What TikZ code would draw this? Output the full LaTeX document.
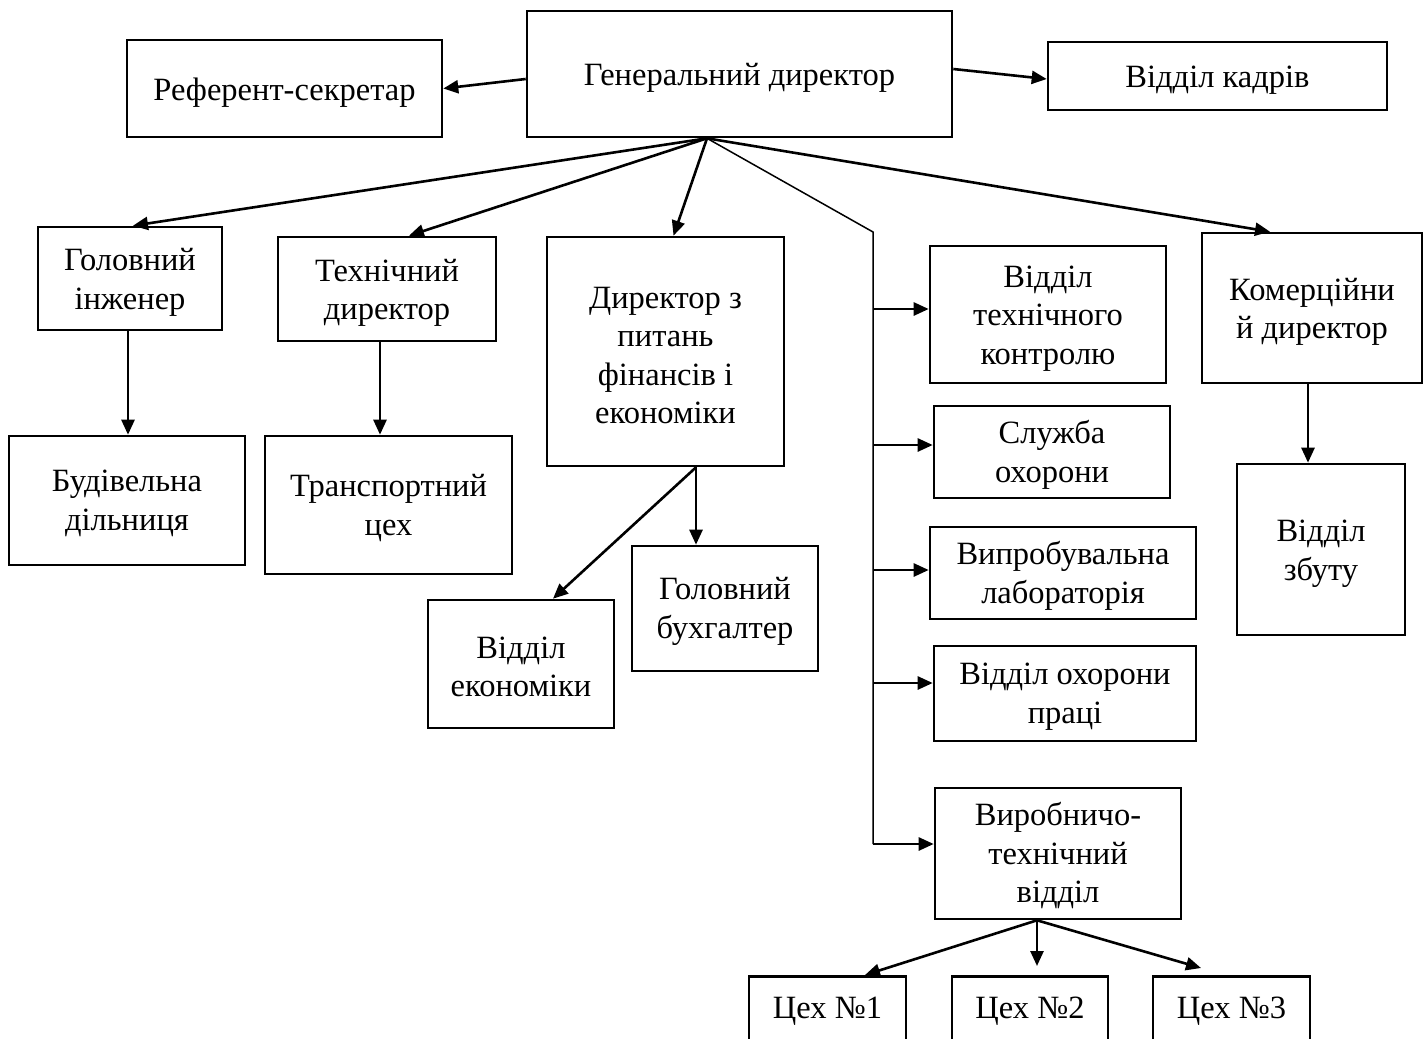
\documentclass[tikz,border=0pt]{standalone}
\usepackage{fontspec}
\setmainfont{Liberation Serif}
\usetikzlibrary{arrows.meta}
\begin{document}
\begin{tikzpicture}[x=1pt,y=-1pt,
  box/.style={draw, line width=2.6pt, inner sep=0pt},
  txt/.style={inner sep=0pt, align=center, font=\fontsize{32.5}{38.5}\selectfont},
  arr/.style={line width=2.6pt, -{Triangle[length=15pt,width=13pt]}},
  thinline/.style={line width=1.5pt}]
\useasboundingbox (0,0) rectangle (1425,1039);

% boxes
\node[box,minimum width=425pt,minimum height=126pt] (gd) at (739.5,74) {};
\node[box,minimum width=315pt,minimum height=97pt] (ref) at (284.5,88.5) {};
\node[box,minimum width=339pt,minimum height=68pt] (kadr) at (1217.5,76) {};
\node[box,minimum width=184pt,minimum height=103pt] (gi) at (130,278.5) {};
\node[box,minimum width=218pt,minimum height=104pt] (td) at (387,289) {};
\node[box,minimum width=237pt,minimum height=229pt] (df) at (665.5,351.5) {};
\node[box,minimum width=236pt,minimum height=137pt] (vtk) at (1048,314.5) {};
\node[box,minimum width=220pt,minimum height=150pt] (kom) at (1312,308) {};
\node[box,minimum width=236pt,minimum height=129pt] (bud) at (127,500.5) {};
\node[box,minimum width=247pt,minimum height=138pt] (trans) at (388.5,505) {};
\node[box,minimum width=186pt,minimum height=125pt] (buh) at (725,608.5) {};
\node[box,minimum width=186pt,minimum height=128pt] (ekon) at (521,664) {};
\node[box,minimum width=236pt,minimum height=92pt] (sluzh) at (1052,452) {};
\node[box,minimum width=168pt,minimum height=171pt] (zbut) at (1321,549.5) {};
\node[box,minimum width=266pt,minimum height=92pt] (vyp) at (1063,573) {};
\node[box,minimum width=262pt,minimum height=95pt] (ohor) at (1065,693.5) {};
\node[box,minimum width=246pt,minimum height=131pt] (vyr) at (1058,853.5) {};
\node[box,minimum width=157pt,minimum height=90pt,anchor=north] (c1) at (827.5,975) {};
\node[box,minimum width=156pt,minimum height=90pt,anchor=north] (c2) at (1030,975) {};
\node[box,minimum width=157pt,minimum height=90pt,anchor=north] (c3) at (1231.5,975) {};

% texts
\node[txt] (gdT) at ([yshift=-4pt]gd.center) {Генеральний директор};
\node[txt] (refT) at ([yshift=-4pt]ref.center) {Референт-секретар};
\node[txt] (kadrT) at ([yshift=-4pt]kadr.center) {Відділ кадрів};
\node[txt] (giT) at ([yshift=-4pt]gi.center) {Головний\\інженер};
\node[txt] (tdT) at ([yshift=-4pt]td.center) {Технічний\\директор};
\node[txt] (dfT) at ([yshift=-4pt]df.center) {Директор з\\питань\\фінансів і\\економіки};
\node[txt] (vtkT) at ([yshift=-4pt]vtk.center) {Відділ\\технічного\\контролю};
\node[txt] (komT) at ([yshift=-4pt]kom.center) {Комерційни\\й директор};
\node[txt] (budT) at ([yshift=-3pt]bud.center) {Будівельна\\дільниця};
\node[txt] (transT) at ([yshift=-3pt]trans.center) {Транспортний\\цех};
\node[txt] (buhT) at ([yshift=-3pt]buh.center) {Головний\\бухгалтер};
\node[txt] (ekonT) at ([yshift=-3pt]ekon.center) {Відділ\\економіки};
\node[txt] (sluzhT) at ([yshift=-3pt]sluzh.center) {Служба\\охорони};
\node[txt] (zbutT) at ([yshift=-4pt]zbut.center) {Відділ\\збуту};
\node[txt] (vypT) at ([yshift=-3pt]vyp.center) {Випробувальна\\лабораторія};
\node[txt] (ohorT) at ([yshift=-3pt]ohor.center) {Відділ охорони\\праці};
\node[txt] (vyrT) at ([yshift=-2pt]vyr.center) {Виробничо-\\технічний\\відділ};
\node[txt,anchor=base] (c1T) at (827.5,1018) {Цех №1};
\node[txt,anchor=base] (c2T) at (1030,1018) {Цех №2};
\node[txt,anchor=base] (c3T) at (1231.5,1018) {Цех №3};

% connectors from the general director
\draw[arr] ([yshift=-5pt]gd.west) -- (ref.east);
\draw[arr] ([yshift=5pt]gd.east) -- ([yshift=-3pt]kadr.west);
\coordinate (hub) at ([xshift=-32.5pt]gd.south);
\draw[arr] (hub) -- ([xshift=3pt]gi.north);
\draw[arr] (hub) -- ([xshift=22pt]td.north);
\draw[arr] (hub) -- ([xshift=8pt]df.north);
\draw[arr] (hub) -- ([xshift=-42pt]kom.north);

% bus
\coordinate (bt) at (873,232);
\coordinate (bb) at (873,844);
\draw[thinline] (hub) -- (bt) -- (bb);
\coordinate (b1) at (873,309);
\coordinate (b2) at (873,445);
\coordinate (b3) at (873,570);
\coordinate (b4) at (873,683);
\draw[arr] (b1) -- (b1 -| vtk.west);
\draw[arr] (b2) -- (b2 -| sluzh.west);
\draw[arr] (b3) -- (b3 -| vyp.west);
\draw[arr] (b4) -- (b4 -| ohor.west);
\draw[arr] (bb) -- (bb -| vyr.west);

% vertical subordinates
\draw[arr] ([xshift=-2pt]gi.south) -- ([xshift=-2pt]gi.south |- bud.north);
\draw[arr] ([xshift=-7pt]td.south) -- ([xshift=-7pt]td.south |- trans.north);
\coordinate (dfh) at ([xshift=30.5pt]df.south);
\draw[arr] (dfh) -- (dfh |- buh.north);
\draw[arr] (dfh) -- ([xshift=32pt]ekon.north);
\draw[arr] ([xshift=-4pt]kom.south) -- ([xshift=-4pt]kom.south |- zbut.north);

% workshops
\coordinate (vh) at ([xshift=-21pt]vyr.south);
\draw[arr] (vh) -- ([xshift=37.5pt]c1.north);
\draw[arr] (vh) -- ([yshift=9pt]c2.north -| vh);
\draw[arr] (vh) -- ([xshift=-30.5pt,yshift=7pt]c3.north);
\end{tikzpicture}
\end{document}
